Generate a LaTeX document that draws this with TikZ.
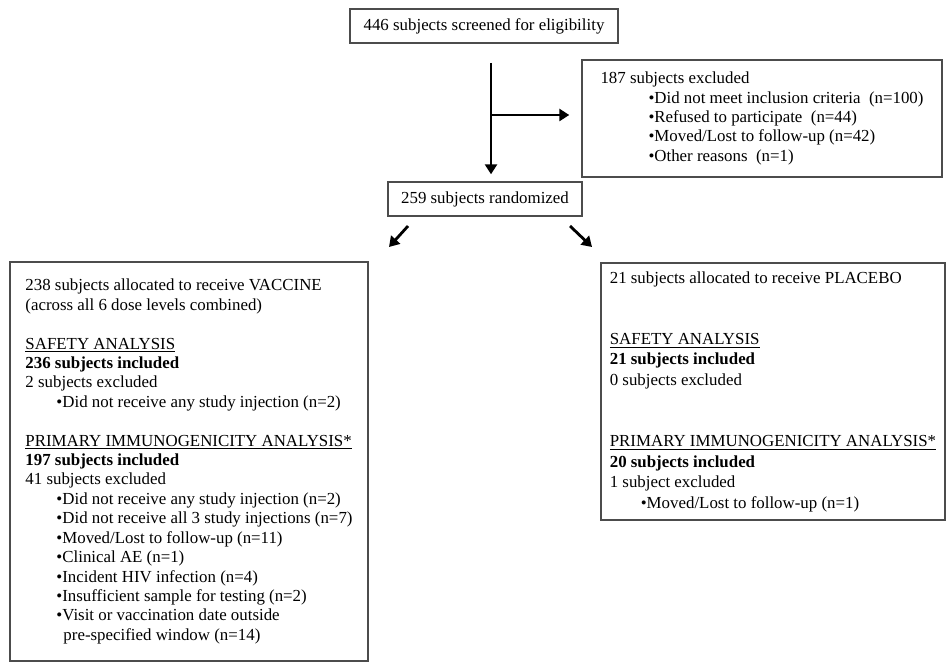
\documentclass[tikz,border=0pt]{standalone}
\usepackage{fontspec}
\setmainfont{Liberation Serif}
\usetikzlibrary{positioning, arrows.meta, calc}

\begin{document}
\begin{tikzpicture}[
    main/.style={rectangle, draw=black!70, line width=0.8pt, fill=white, minimum width=5.36cm, minimum height=0.68cm, align=center, inner sep=0pt, font=\fontsize{9.6}{11.05}\selectfont},
    list/.style={rectangle, draw=black!70, line width=0.8pt, fill=white, align=left, inner sep=0pt, font=\fontsize{9.6}{11.05}\selectfont},
    arrow/.style={-{Triangle[length=0.2cm, width=0.24cm]}, draw=black, line width=1.6pt}
]
    \useasboundingbox (0,0) rectangle (18.92,13.24);

    % Screening and randomisation
    \node (screen) at (9.68,12.72) [main] {446 subjects screened for eligibility};
    \node (rand) at (9.70,9.26) [main, minimum width=3.88cm] {259 subjects randomized};

    % Exclusions before randomisation
    \node (excl) at (15.24,10.87) [list, minimum width=7.2cm, minimum height=2.34cm] {
        187 subjects excluded\\
        \hspace*{0.96cm}\textbullet{}Did not meet inclusion criteria\ \ (n=100)\\
        \hspace*{0.96cm}\textbullet{}Refused to participate\ \ (n=44)\\
        \hspace*{0.96cm}\textbullet{}Moved/Lost to follow-up (n=42)\\
        \hspace*{0.96cm}\textbullet{}Other reasons\ \ (n=1)
    };

    % Vaccine arm
    \node (vacc) at (3.78,4.01) [list, minimum width=7.16cm, minimum height=7.98cm] {
        238 subjects allocated to receive VACCINE\\
        (across all 6 dose levels combined)\\
        ~\\
        \underline{SAFETY ANALYSIS}\\
        \textbf{236 subjects included}\\
        2 subjects excluded\\
        \hspace*{0.62cm}\textbullet{}Did not receive any study injection (n=2)\\
        ~\\
        \underline{PRIMARY IMMUNOGENICITY ANALYSIS*}\\
        \textbf{197 subjects included}\\
        41 subjects excluded\\
        \hspace*{0.62cm}\textbullet{}Did not receive any study injection (n=2)\\
        \hspace*{0.62cm}\textbullet{}Did not receive all 3 study injections (n=7)\\
        \hspace*{0.62cm}\textbullet{}Moved/Lost to follow-up (n=11)\\
        \hspace*{0.62cm}\textbullet{}Clinical AE (n=1)\\
        \hspace*{0.62cm}\textbullet{}Incident HIV infection (n=4)\\
        \hspace*{0.62cm}\textbullet{}Insufficient sample for testing (n=2)\\
        \hspace*{0.62cm}\textbullet{}Visit or vaccination date outside\\
        \hspace*{0.76cm}pre-specified window (n=14)
    };

    % Placebo arm
    \node (plac) at (15.46,5.41) [list, minimum width=6.88cm, minimum height=5.14cm, font=\fontsize{9.6}{11.64}\selectfont] {
        21 subjects allocated to receive PLACEBO\\
        ~\\
        ~\\
        \underline{SAFETY ANALYSIS}\\
        \textbf{21 subjects included}\\
        0 subjects excluded\\
        ~\\
        ~\\
        \underline{PRIMARY IMMUNOGENICITY ANALYSIS*}\\
        \textbf{20 subjects included}\\
        1 subject excluded\\
        \hspace*{0.62cm}\textbullet{}Moved/Lost to follow-up (n=1)
    };

    % Flow arrows
    \coordinate (trunk) at (9.82,11.98);
    \coordinate (fork) at (9.82,10.94);
    \draw [arrow, shorten >=0.14cm] (trunk) -- (trunk |- rand.north);
    \draw [arrow, shorten >=0.24cm] (fork) -- (fork -| excl.west);

    % Split to the two arms
    \coordinate (splitL) at (8.16,8.72);
    \coordinate (splitR) at (11.40,8.72);
    \draw [arrow] (splitL) -- ++(-0.38,-0.42);
    \draw [arrow] (splitR) -- ++(0.44,-0.42);

\end{tikzpicture}
\end{document}
